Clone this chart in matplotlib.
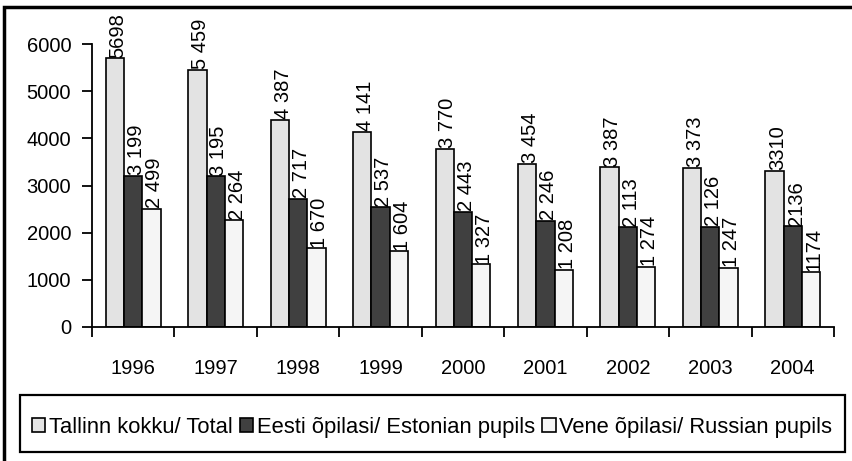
"""Tallinn pupils by language of instruction, 1996-2004 (grouped bars)."""

import numpy as np
import matplotlib
matplotlib.use("Agg")
import matplotlib.pyplot as plt  # noqa: E402
from matplotlib.patches import Rectangle  # noqa: E402

plt.rcParams["font.family"] = ["Liberation Sans", "DejaVu Sans"]

years = ["1996", "1997", "1998", "1999", "2000", "2001", "2002", "2003", "2004"]
total = [5698, 5459, 4387, 4141, 3770, 3454, 3387, 3373, 3310]
estonian = [3199, 3195, 2717, 2537, 2443, 2246, 2113, 2126, 2136]
russian = [2499, 2264, 1670, 1604, 1327, 1208, 1274, 1247, 1174]
# labels as printed in the source (thousand separators are inconsistent)
total_lbl = ["5698", "5 459", "4 387", "4 141", "3 770", "3 454", "3 387", "3 373", "3310"]
estonian_lbl = ["3 199", "3 195", "2 717", "2 537", "2 443", "2 246", "2 113", "2 126", "2136"]
russian_lbl = ["2 499", "2 264", "1 670", "1 604", "1 327", "1 208", "1 274", "1 247", "1174"]
names = ["Tallinn kokku/ Total", "Eesti õpilasi/ Estonian pupils",
         "Vene õpilasi/ Russian pupils"]
colors = ["#e3e3e3", "#404040", "#f5f5f5"]

FS = 14.5

fig = plt.figure(figsize=(8.52, 4.61), dpi=100)
ax = fig.add_axes([92 / 852, 1 - 327 / 461, 742 / 852, 283 / 461])

x = np.arange(len(years))
w = 0.222
series = [(total, total_lbl), (estonian, estonian_lbl), (russian, russian_lbl)]
for k, (vals, lbls) in enumerate(series):
    pos = x + (k - 1) * w
    ax.bar(pos, vals, w, color=colors[k], edgecolor="black", lw=1.2,
           label=names[k], zorder=2)
    for xp, v, s in zip(pos, vals, lbls):
        ax.text(xp + 0.04, v + 15, s, rotation=90, ha="center", va="bottom",
                fontsize=FS, clip_on=False)

ax.set_xlim(-0.5, len(years) - 0.5)
ax.set_ylim(0, 6000)
ax.set_yticks(range(0, 6001, 1000))
ax.set_xticks(x)
ax.set_xticklabels(years)
ax.set_xticks(np.arange(len(years) + 1) - 0.5, minor=True)
ax.tick_params(axis="x", which="major", length=0, pad=23, labelsize=FS)
ax.tick_params(axis="x", which="minor", length=7, width=1.3, direction="out")
ax.tick_params(axis="y", length=7, width=1.3, direction="out", pad=8,
               labelsize=FS)
for side in ("top", "right"):
    ax.spines[side].set_visible(False)
for side in ("left", "bottom"):
    ax.spines[side].set_linewidth(1.3)

leg = fig.legend(loc="center", ncol=3, bbox_to_anchor=(432 / 852, 1 - 427 / 461),
                 bbox_transform=fig.transFigure, fontsize=15.8, frameon=False,
                 handlelength=0.6, handleheight=0.6, handletextpad=0.15,
                 columnspacing=0.35, borderpad=0)

# legend box and outer chart border (only left/top edges of it are in view)
fig.patches.append(Rectangle((20 / 852, 1 - 452 / 461), 825 / 852, 57 / 461,
                             transform=fig.transFigure, fill=False,
                             edgecolor="black", lw=1.6))
fig.patches.append(Rectangle((4 / 852, -0.1), 1.2, 1.1 - 7 / 461,
                             transform=fig.transFigure, fill=False,
                             edgecolor="black", lw=2.5))

fig.savefig("out.png", dpi=100)
